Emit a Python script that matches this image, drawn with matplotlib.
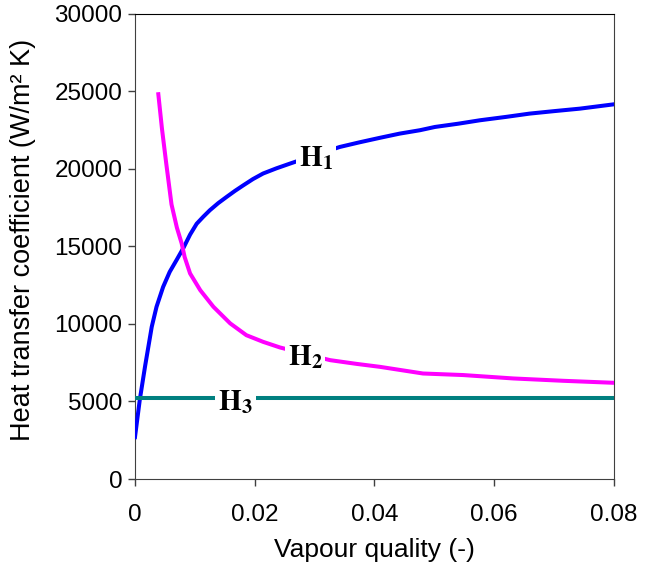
import numpy as np
import matplotlib
matplotlib.use('Agg')
import matplotlib.pyplot as plt

# curves
x_h1 = [0.0, 0.0008, 0.0017, 0.0028, 0.0036, 0.0047, 0.0058, 0.0070, 0.0081, 0.0092,
        0.0103, 0.0114, 0.0125, 0.0139, 0.0153, 0.0167, 0.0181, 0.0197, 0.0214, 0.0236,
        0.0259, 0.030, 0.0342, 0.0375, 0.0409, 0.0442, 0.0476, 0.0501, 0.0540,
        0.0576, 0.0620, 0.0659, 0.0700, 0.0743, 0.08]
h1 = [2700, 5100, 7300, 9810, 11100, 12380, 13350, 14150, 14900, 15750,
      16450, 16900, 17320, 17780, 18180, 18570, 18930, 19330, 19690, 20020,
      20330, 20870, 21400, 21700, 21990, 22260, 22480, 22690, 22900,
      23120, 23340, 23550, 23710, 23870, 24150]

x_h2 = [0.0039, 0.0045, 0.0052, 0.0061, 0.0070, 0.0078, 0.0083, 0.0092, 0.0109, 0.0131,
        0.0159, 0.0186, 0.0214, 0.0242, 0.0285, 0.0326, 0.0370, 0.0409, 0.0481, 0.0548,
        0.0632, 0.0715, 0.08]
h2 = [24800, 22600, 20400, 17700, 16200, 15180, 14300, 13250, 12170, 11100,
      10030, 9270, 8840, 8480, 8050, 7660, 7420, 7230, 6800, 6700,
      6480, 6330, 6200]

x_h3 = [0.0, 0.08]
h3 = [5200, 5200]

xticks = [0, 0.02, 0.04, 0.06, 0.08]
xticklabels = ['0', '0.02', '0.04', '0.06', '0.08']
yticks = [0, 5000, 10000, 15000, 20000, 25000, 30000]

plt.rcParams['font.family'] = ['Liberation Sans', 'DejaVu Sans']
plt.rcParams['mathtext.fontset'] = 'stix'

fig = plt.figure(figsize=(6.48, 5.64), dpi=100)
ax = fig.add_axes([0.2083, 0.1507, 0.7392, 0.8253])

ax.plot(x_h1, h1, color='#0000ff', lw=2.9, zorder=3)
ax.plot(x_h2, h2, color='#ff00ff', lw=2.9, zorder=3)
ax.plot(x_h3, h3, color='#008080', lw=2.9, zorder=3)

box = dict(facecolor='white', edgecolor='none', pad=2)
ax.text(0.0302, 20700, r'$\mathbf{H}_\mathbf{1}$', fontsize=21, ha='center', va='center', bbox=box, zorder=4)
ax.text(0.0284, 7850, r'$\mathbf{H}_\mathbf{2}$', fontsize=21, ha='center', va='center', bbox=box, zorder=4)
ax.text(0.0168, 4950, r'$\mathbf{H}_\mathbf{3}$', fontsize=21, ha='center', va='center', bbox=box, zorder=4)

ax.set_xlim(0, 0.08)
ax.set_ylim(0, 30000)
ax.set_xticks(xticks)
ax.set_xticklabels(xticklabels)
ax.set_yticks(yticks)
ax.tick_params(direction='out', length=5, width=1, labelsize=17.5, color='#404040')
ax.tick_params(axis='x', pad=13)
ax.tick_params(axis='y', pad=4)

for side in ['left', 'bottom', 'right']:
    ax.spines[side].set_color('#404040')
ax.spines['top'].set_color('black')

ax.set_xlabel('Vapour quality (-)', fontsize=19, va='center')
ax.xaxis.set_label_coords(0.5, (479 - 550) / 465)
ax.set_ylabel('Heat transfer coefficient (W/m² K)', fontsize=19.5, va='center')
ax.yaxis.set_label_coords((23 - 135) / 479, (479 - 240) / 465)

fig.savefig('out.png', dpi=100)
